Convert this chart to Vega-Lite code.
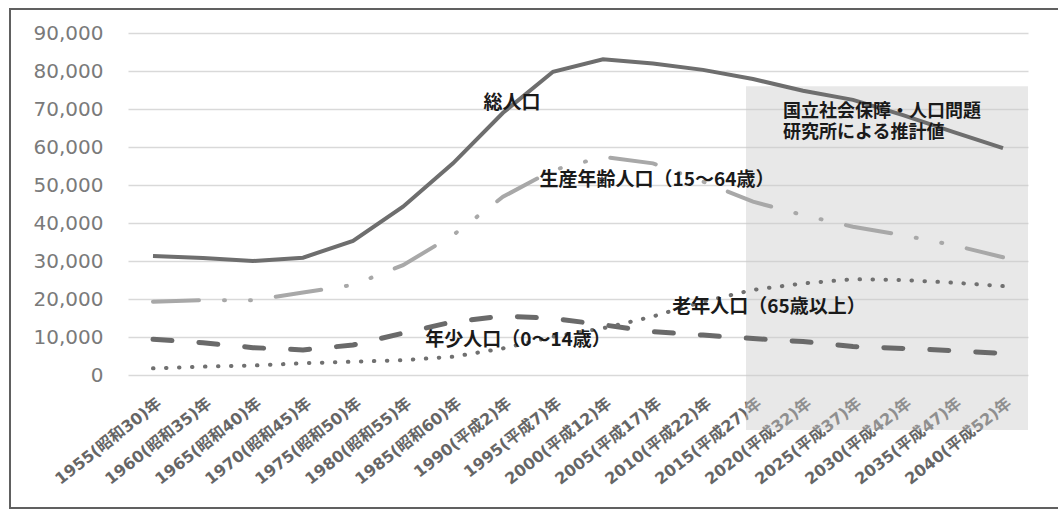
{
  "$schema": "https://vega.github.io/schema/vega-lite/v6.json",
  "width": 900,
  "height": 342,
  "autosize": {"type": "none"},
  "padding": {"left": 128, "top": 33, "right": 30, "bottom": 138},
  "background": "#ffffff",
  "config": {
    "view": {"stroke": null},
    "axis": {"labelOverlap": false},
    "axisY": {"labelOverlap": false, "labelBound": false}
  },
  "datasets": {
    "pop": [
      {"year": 1955, "total": 31300, "working": 19300, "young": 9400, "elderly": 1750},
      {"year": 1960, "total": 30800, "working": 19700, "young": 8500, "elderly": 2200},
      {"year": 1965, "total": 30000, "working": 19700, "young": 7200, "elderly": 2500},
      {"year": 1970, "total": 30870, "working": 21700, "young": 6600, "elderly": 3100},
      {"year": 1975, "total": 35300, "working": 23700, "young": 7900, "elderly": 3500},
      {"year": 1980, "total": 44300, "working": 28900, "young": 11000, "elderly": 3900},
      {"year": 1985, "total": 55700, "working": 36800, "young": 14000, "elderly": 4800},
      {"year": 1990, "total": 69000, "working": 46900, "young": 15500, "elderly": 7000},
      {"year": 1995, "total": 79800, "working": 53900, "young": 14900, "elderly": 10100},
      {"year": 2000, "total": 83100, "working": 57400, "young": 13200, "elderly": 12300},
      {"year": 2005, "total": 82000, "working": 55700, "young": 11400, "elderly": 15400},
      {"year": 2010, "total": 80300, "working": 50900, "young": 10500, "elderly": 19300},
      {"year": 2015, "total": 77900, "working": 45600, "young": 9600, "elderly": 22400},
      {"year": 2020, "total": 74800, "working": 42100, "young": 8800, "elderly": 24100},
      {"year": 2025, "total": 72400, "working": 39000, "young": 7500, "elderly": 25200},
      {"year": 2030, "total": 68400, "working": 36800, "young": 7000, "elderly": 25000},
      {"year": 2035, "total": 64000, "working": 34200, "young": 6400, "elderly": 24300},
      {"year": 2040, "total": 59700, "working": 31000, "young": 5700, "elderly": 23400}
    ],
    "labels": [
      {"text": "総人口", "year": 1990.9, "value": 71600},
      {"text": "生産年齢人口（15～64歳）", "year": 2005.4, "value": 51300},
      {"text": "老年人口（65歳以上）", "year": 2016.6, "value": 17900},
      {"text": "年少人口（0～14歳）", "year": 1991.5, "value": 9200}
    ],
    "note": [
      {"text": "国立社会保障・人口問題", "year": 2018, "value": 69200},
      {"text": "研究所による推計値", "year": 2018, "value": 63700}
    ]
  },
  "layer": [
    {
      "data": {"values": [{"x": 1940.7, "x2": 2046, "y": 96300, "y2": -35000}]},
      "mark": {"type": "rect", "fill": null, "stroke": "#606060", "strokeWidth": 2},
      "encoding": {
        "x": {
          "field": "x", "type": "quantitative",
          "scale": {"domain": [1952.5, 2042.5], "nice": false, "zero": false},
          "axis": {
            "values": [1955, 1960, 1965, 1970, 1975, 1980, 1985, 1990, 1995, 2000, 2005, 2010, 2015, 2020, 2025, 2030, 2035, 2040],
            "labelExpr": "datum.value < 1989 ? datum.value + '(昭和' + (datum.value - 1925) + ')年' : datum.value + '(平成' + (datum.value - 1988) + ')年'",
            "labelAngle": -38,
            "labelAlign": "right",
            "labelBaseline": "middle",
            "labelPadding": 26,
            "labelOffset": 6,
            "labelFont": "DejaVu Sans, Noto Sans CJK JP",
            "labelFontSize": 16,
            "labelColor": "#666666",
            "labelFontWeight": "bold",
            "labelOverlap": false,
            "labelFlush": false,
            "grid": false, "ticks": false, "domain": false, "title": null
          }
        },
        "x2": {"field": "x2"},
        "y": {
          "field": "y", "type": "quantitative",
          "scale": {"domain": [0, 90000], "nice": false},
          "axis": {
            "values": [0, 10000, 20000, 30000, 40000, 50000, 60000, 70000, 80000, 90000],
            "tickCount": 10,
            "format": ",.0f",
            "labelOverlap": false,
            "labelFont": "DejaVu Sans",
            "labelFontSize": 20,
            "labelColor": "#7a7a7a",
            "labelPadding": 25,
            "gridColor": "#d9d9d9",
            "gridWidth": 1.5,
            "ticks": false, "domain": false, "title": null
          }
        },
        "y2": {"field": "y2"}
      }
    },
    {
      "data": {"values": [{"x": 2014.3, "x2": 2042.5, "y": 76000, "y2": -14500}]},
      "mark": {"type": "rect", "fill": "#c8c8c8", "fillOpacity": 0.42},
      "encoding": {
        "x": {"field": "x", "type": "quantitative"},
        "x2": {"field": "x2"},
        "y": {"field": "y", "type": "quantitative"},
        "y2": {"field": "y2"}
      }
    },
    {
      "data": {"name": "pop"},
      "mark": {"type": "line", "color": "#6e6e6e", "strokeWidth": 4},
      "encoding": {
        "x": {"field": "year", "type": "quantitative"},
        "y": {"field": "total", "type": "quantitative"}
      }
    },
    {
      "data": {"name": "pop"},
      "mark": {"type": "line", "color": "#a8a8a8", "strokeWidth": 4, "strokeCap": "round", "strokeDash": [46, 25, 1, 25, 1, 25]},
      "encoding": {
        "x": {"field": "year", "type": "quantitative"},
        "y": {"field": "working", "type": "quantitative"}
      }
    },
    {
      "data": {"name": "pop"},
      "mark": {"type": "line", "color": "#6a6a6a", "strokeWidth": 5, "strokeCap": "round", "strokeDash": [19, 27]},
      "encoding": {
        "x": {"field": "year", "type": "quantitative"},
        "y": {"field": "young", "type": "quantitative"}
      }
    },
    {
      "data": {"name": "pop"},
      "mark": {"type": "line", "color": "#707070", "strokeWidth": 4, "strokeCap": "round", "strokeDash": [0.5, 12.5]},
      "encoding": {
        "x": {"field": "year", "type": "quantitative"},
        "y": {"field": "elderly", "type": "quantitative"}
      }
    },
    {
      "data": {"name": "labels"},
      "mark": {"type": "text", "font": "Noto Sans CJK JP", "fontSize": 19, "fontWeight": "bold", "color": "#1a1a1a", "align": "center", "baseline": "middle"},
      "encoding": {
        "x": {"field": "year", "type": "quantitative"},
        "y": {"field": "value", "type": "quantitative"},
        "text": {"field": "text"}
      }
    },
    {
      "data": {"name": "note"},
      "mark": {"type": "text", "font": "Noto Sans CJK JP", "fontSize": 18, "fontWeight": "bold", "color": "#1a1a1a", "align": "left", "baseline": "middle"},
      "encoding": {
        "x": {"field": "year", "type": "quantitative"},
        "y": {"field": "value", "type": "quantitative"},
        "text": {"field": "text"}
      }
    }
  ]
}
